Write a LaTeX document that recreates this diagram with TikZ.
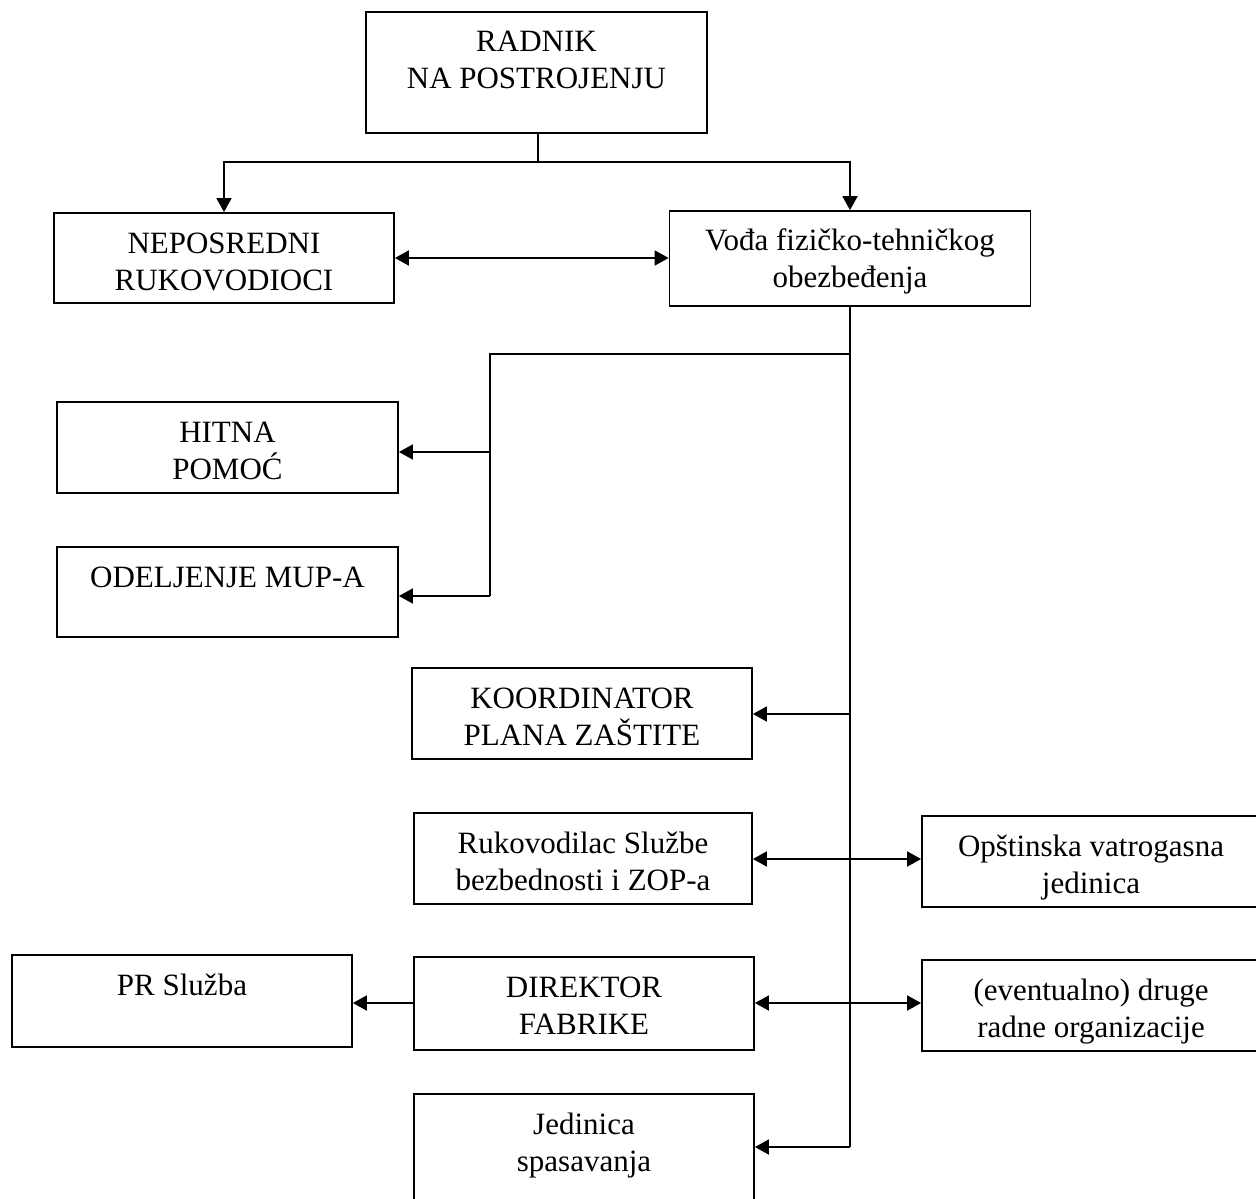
\documentclass[tikz,border=0pt]{standalone}
\usepackage{fontspec}
\setmainfont{Liberation Serif}
\usetikzlibrary{arrows.meta}

% box text: fixed size, text at the top
\newcommand{\bx}[3]{\parbox[c][#2][t]{#1}{\centering\rule{0pt}{20pt}#3}}

\begin{document}
\begin{tikzpicture}
            [x=0.5pt, y=-0.5pt, every node/.style={draw, inner sep=0pt, line width=0.9pt, font=\fontsize{15.5}{18.5}\selectfont},
             every path/.style={line width=0.9pt, black},
             arr/.style={-{Triangle[length=7pt,width=7.5pt]}},
             arr2/.style={{Triangle[length=7pt,width=7.5pt]}-{Triangle[length=7pt,width=7.5pt]}}]

            \useasboundingbox (0,0) rectangle (1256,1198);

            \node (radnik) at (536.5, 72.5) {\bx{170.5pt}{60.5pt}{RADNIK\\NA POSTROJENJU}};
            \node (neposr) at (224, 258) {\bx{170pt}{45pt}{NEPOSREDNI\\RUKOVODIOCI}};
            \node (voda) at (850, 258.5) {\bx{180.5pt}{47.5pt}{Vođa fizičko-tehničkog\\obezbeđenja}};
            \node (hitna) at (227.5, 447.5) {\bx{170.5pt}{45.5pt}{HITNA\\POMOĆ}};
            \node (mup) at (227.5, 592) {\bx{170.5pt}{45pt}{ODELJENJE MUP-A}};
            \node (koord) at (582, 713.5) {\bx{170pt}{45.5pt}{KOORDINATOR\\PLANA ZAŠTITE}};
            \node (rukov) at (583, 858.5) {\bx{169pt}{45.5pt}{Rukovodilac Službe\\bezbednosti i ZOP-a}};
            \node (vatro) at (1091, 861.5) {\bx{169pt}{45.5pt}{Opštinska vatrogasna\\jedinica}};
            \node (pr) at (182, 1001) {\bx{170pt}{46pt}{PR Služba}};
            \node (direktor) at (584, 1003.5) {\bx{170pt}{46.5pt}{DIREKTOR\\FABRIKE}};
            \node (druge) at (1091, 1005.5) {\bx{169pt}{45.5pt}{(eventualno) druge\\radne organizacije}};
            \node (jedinica) at (584, 1154) {\bx{170pt}{60pt}{Jedinica\\spasavanja}};

            \coordinate (j1) at (538, 162);
            \coordinate (b0) at (850, 354);
            \coordinate (b1) at (490, 354);
            \coordinate (b2) at (490, 452);
            \coordinate (b3) at (490, 596);
            \coordinate (k1) at (850, 714);
            \coordinate (r1) at (850, 859);
            \coordinate (d1) at (850, 1003);
            \coordinate (tend) at (850, 1147);

            \draw (radnik.south -| j1) -- (j1);
            \draw[arr] (j1) -| (neposr.north);
            \draw[arr] (j1) -| (voda.north);
            \draw[arr2] (neposr.east) -- (neposr.east -| voda.west);

            \draw (voda.south) -- (tend);
            \draw (b0) -- (b1) -- (b3);
            \draw[arr] (b2) -- (b2 -| hitna.east);
            \draw[arr] (b3) -- (b3 -| mup.east);
            \draw[arr] (k1) -- (k1 -| koord.east);
            \draw[arr2] (r1 -| rukov.east) -- (r1 -| vatro.west);
            \draw[arr2] (d1 -| direktor.east) -- (d1 -| druge.west);
            \draw[arr] (d1 -| direktor.west) -- (d1 -| pr.east);
            \draw[arr] (tend) -- (tend -| jedinica.east);
          \end{tikzpicture}
\end{document}
